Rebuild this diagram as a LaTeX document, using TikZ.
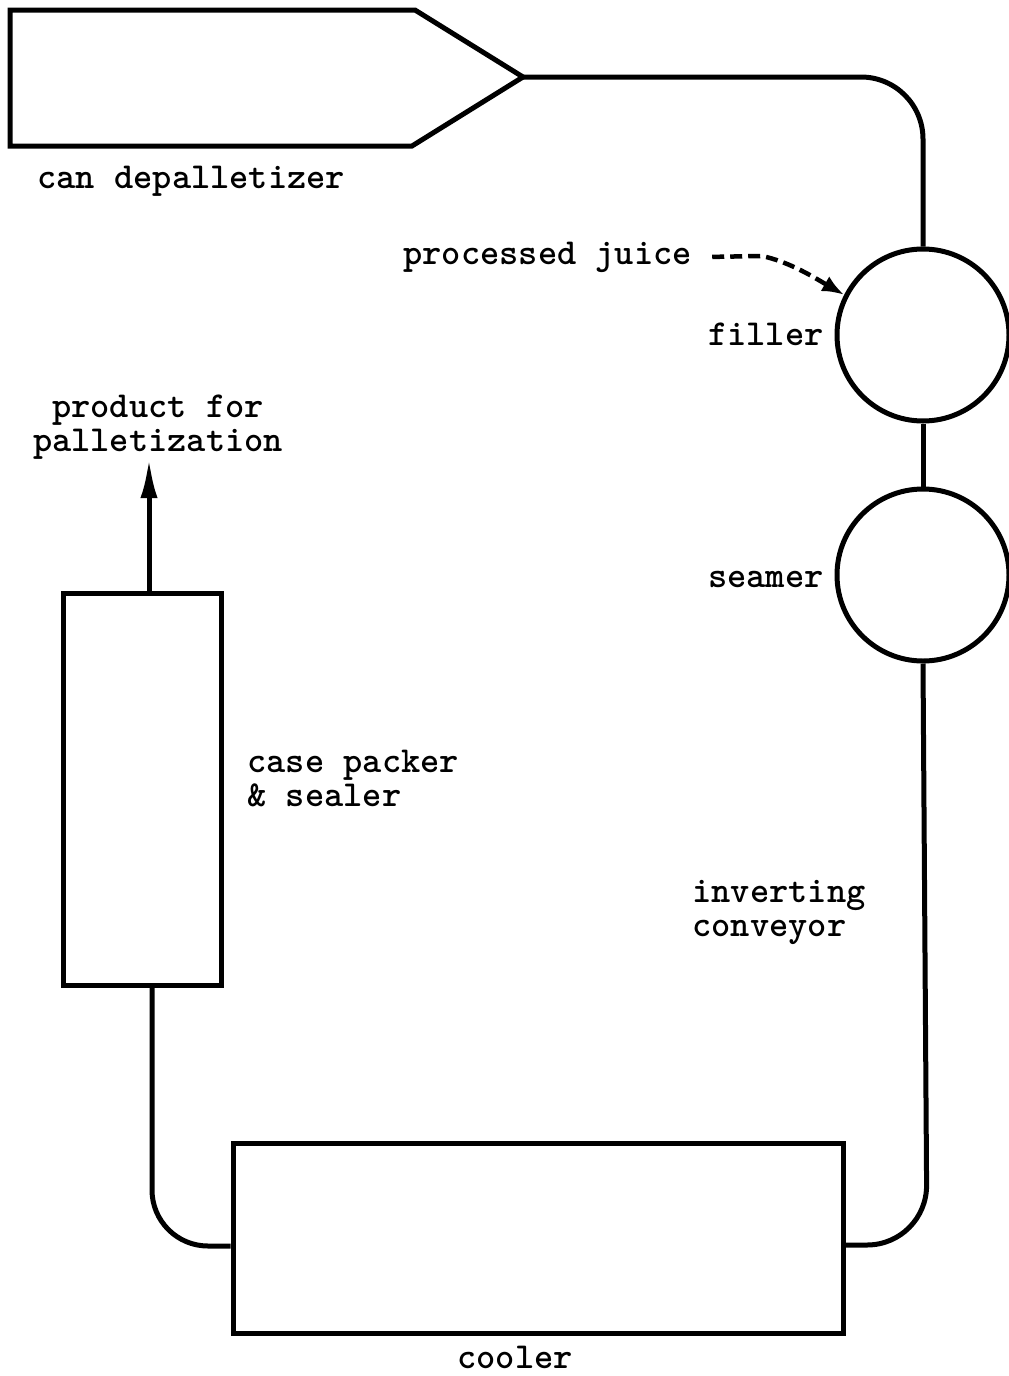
\documentclass[tikz,border=0pt]{standalone}
\usepackage{fontspec}
\usetikzlibrary{arrows.meta}
\begin{document}
\begin{tikzpicture}[x=1pt,y=-1pt,line width=5pt,
  lab/.style={font=\ttfamily\bfseries\fontsize{36.6}{34}\selectfont,inner sep=0pt,anchor=base west},
  unit/.style={circle,draw,minimum size=172pt,inner sep=0pt},
  boxunit/.style={rectangle,draw,inner sep=0pt}]
\useasboundingbox (0,0) rectangle (1009,1376);
\fill[white] (0,0) rectangle (1009,1376);
% can depalletizer
\draw[line join=miter] (10,10) -- (415,10) -- (523,77) -- (412,146) -- (10,146) -- cycle;
\coordinate (tip) at (523,77);
\node[lab] (ldepal) at (35,188) {can depalletizer};
% filler and seamer
\node[unit] (filler) at (923,335) {};
\node[unit] (seamer) at (923,575) {};
\node[lab,anchor=base east] (lfiller) at (826,345) {filler};
\node[lab,anchor=base east] (lseamer) at (826,587) {seamer};
% cooler and case packer
\node[boxunit,minimum width=610pt,minimum height=190pt] (cooler) at (538,1238) {};
\node[lab] (lcooler) at (455,1368) {cooler};
\node[boxunit,minimum width=158pt,minimum height=392pt] (packer) at (142,789) {};
\node[lab,align=left] (lpack) at (245,806) {case packer\\\& sealer};
\node[lab,align=left] (lconv) at (690,936) {inverting\\conveyor};
\node[lab,align=center,anchor=base] (lprod) at (158,451) {product for\\palletization};
\node[lab] (juice) at (401,264) {processed juice};
\coordinate (outtop) at (149,458);
% connectors
\draw[rounded corners=62pt] (tip) -- (923,77) -- (filler.north);
\draw (filler.south) -- (seamer.north);
\draw[rounded corners=60pt] (seamer.south) -- (927,1245) -- ([yshift=-7pt]cooler.east);
\draw[rounded corners=56pt] ([yshift=-8pt]cooler.west) -- (152,1246) -- ([xshift=10pt]packer.south);
\draw[-{Latex[length=40pt,width=17pt]}] ([xshift=7pt]packer.north) -- (outtop);
\draw[line width=4.5pt,dash pattern=on 12pt off 6pt,-{Latex[length=22pt,width=17pt]}]
  ([xshift=18pt]juice.east) -- (762,256) .. controls (790,262) and (815,278) .. (filler.153);
\end{tikzpicture}
\end{document}
